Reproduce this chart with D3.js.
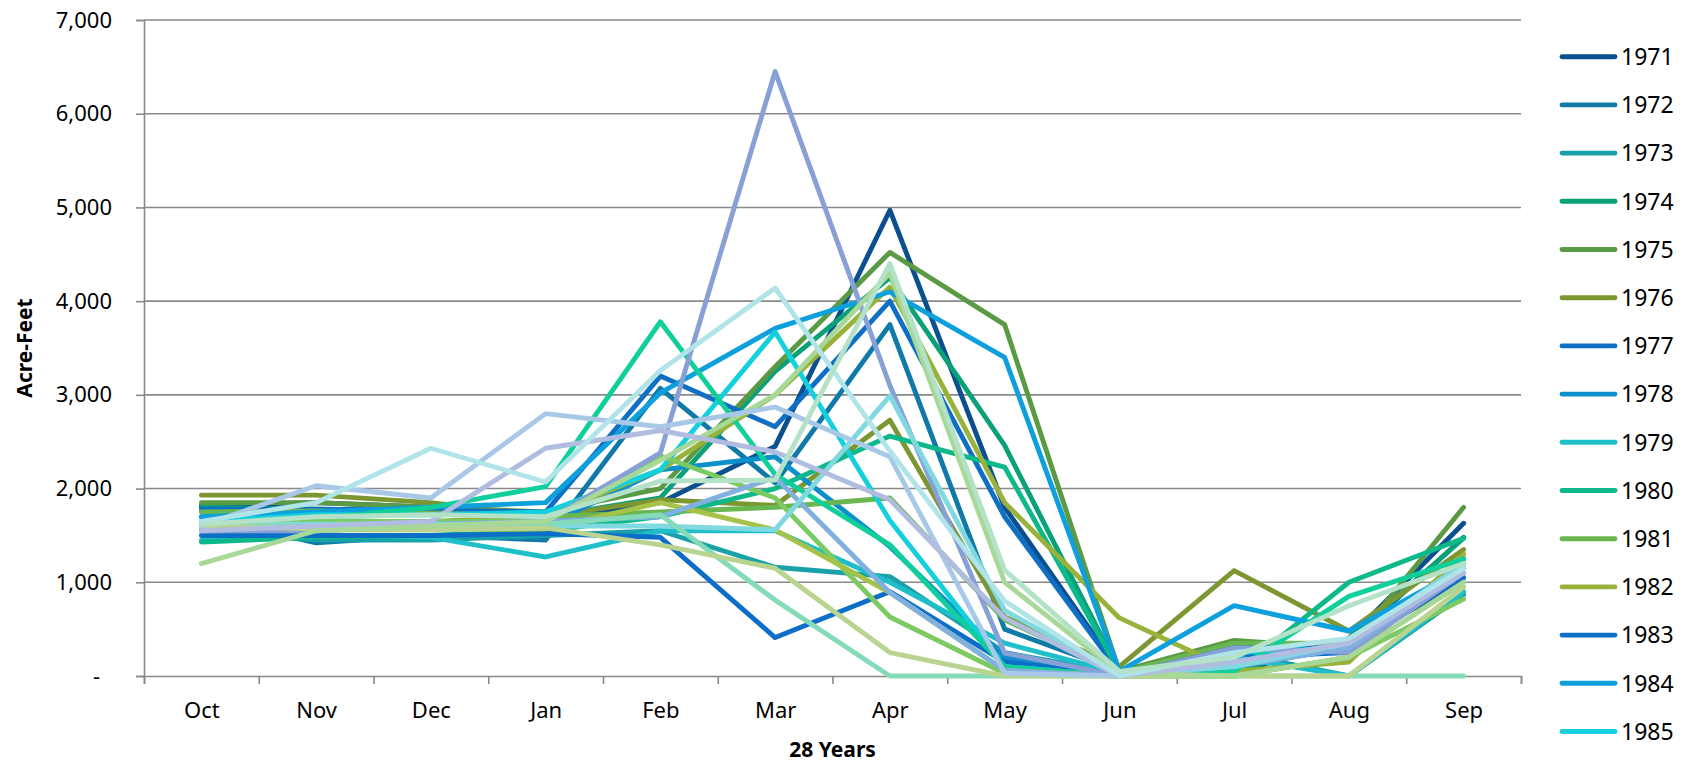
<!DOCTYPE html>
<html>
<head>
<meta charset="utf-8">
<script src="https://cdn.jsdelivr.net/npm/d3@7"></script>
<style>
    html, body { margin: 0; padding: 0; background: #fff; overflow: hidden; }
    svg { display: block; font-family: 'Noto Sans', 'DejaVu Sans', sans-serif; }
</style>
</head>
<body>
<svg width="1688" height="763"></svg>
<script>
// months of the water year
const months = ['Oct', 'Nov', 'Dec', 'Jan', 'Feb', 'Mar', 'Apr', 'May', 'Jun', 'Jul', 'Aug', 'Sep'];
const yTicks = [0, 1000, 2000, 3000, 4000, 5000, 6000, 7000];
const years = d3.range(1971, 1999);
const colors = [
    '#0b4f8e', '#0f7aa8', '#1aa0a8', '#0aa078', '#5a9a45', '#7c9632',
    '#0e6fc4', '#0d8fcc', '#1fbfca', '#0db88a', '#6ab651', '#98b23c',
    '#0d6ec8', '#0ea0dc', '#14d0dc', '#10cf9b', '#7cca62', '#a5c249',
    '#87a0d6', '#80b0e0', '#80d8e0', '#85dbb8', '#b8d490', '#a8d898',
    '#a8c8e8', '#b0bce0', '#b0e4e8', '#b4e2c8',
];
// acre-feet per month, one row per year
const flows = [
    [1820, 1850, 1800, 1650, 1850, 2450, 4970, 1800, 50, 30, 400, 1630],
    [1700, 1420, 1500, 1450, 3070, 2060, 3750, 500, 50, 200, 350, 1480],
    [1550, 1450, 1450, 1500, 1550, 1160, 1060, 250, 30, 250, 0, 870],
    [1800, 1780, 1760, 1700, 1900, 3250, 4250, 2460, 50, 50, 400, 1470],
    [1850, 1850, 1800, 1750, 2000, 3300, 4520, 3750, 50, 380, 300, 1800],
    [1930, 1930, 1850, 1700, 1880, 1820, 2730, 630, 100, 1125, 480, 1350],
    [1780, 1780, 1770, 1750, 3200, 2660, 4000, 1700, 40, 200, 250, 1250],
    [1650, 1660, 1640, 1600, 2200, 2340, 1380, 200, 20, 100, 300, 1150],
    [1450, 1500, 1480, 1270, 1550, 1550, 1000, 350, 30, 200, 0, 900],
    [1430, 1480, 1500, 1550, 1700, 2000, 2560, 2230, 50, 20, 1000, 1470],
    [1750, 1760, 1740, 1700, 1750, 1800, 1900, 600, 30, 350, 350, 1000],
    [1560, 1600, 1650, 1700, 2200, 3000, 4150, 1850, 620, 50, 150, 1300],
    [1500, 1500, 1500, 1520, 1480, 410, 900, 150, 0, 300, 300, 1050],
    [1700, 1750, 1800, 1850, 3020, 3710, 4100, 3400, 50, 750, 480, 1150],
    [1650, 1720, 1720, 1750, 2200, 3670, 1660, 100, 0, 250, 300, 1200],
    [1620, 1680, 1800, 2020, 3780, 2150, 1400, 100, 0, 50, 850, 1250],
    [1600, 1650, 1650, 1650, 2350, 1900, 630, 30, 0, 0, 200, 820],
    [1550, 1560, 1560, 1570, 1850, 1560, 890, 60, 0, 0, 200, 1000],
    [1550, 1550, 1600, 1650, 2380, 6450, 3100, 245, 0, 300, 250, 1100],
    [1600, 1600, 1620, 1650, 1700, 2120, 890, 60, 0, 100, 300, 1150],
    [1620, 1620, 1620, 1600, 1600, 1560, 2990, 700, 20, 100, 350, 1200],
    [1620, 1600, 1600, 1620, 1720, 810, 0, 0, 0, 0, 0, 0],
    [1600, 1570, 1560, 1580, 1400, 1150, 250, 0, 0, 0, 0, 950],
    [1200, 1550, 1600, 1650, 2300, 3000, 4300, 1000, 30, 0, 200, 1000],
    [1600, 2030, 1900, 2800, 2660, 2870, 2340, 30, 0, 150, 350, 1150],
    [1550, 1600, 1650, 2430, 2620, 2390, 1880, 620, 0, 150, 350, 1100],
    [1650, 1850, 2430, 2070, 3260, 4140, 2400, 800, 0, 250, 400, 1150],
    [1620, 1700, 1720, 1700, 2080, 2090, 4400, 1130, 50, 200, 750, 1200],
];

const svg = d3.select('svg');
const width = +svg.attr('width');
const height = +svg.attr('height');
const plot = { left: 144, right: 1521, top: 20, bottom: 676 };
const gridColor = '#898989';

const x = d3.scalePoint()
    .domain(months)
    .range([plot.left, plot.right])
    .padding(0.5);
// boundaries between the month slots, for the tick marks
const xEdge = d3.scaleLinear()
    .domain([0, months.length])
    .range([plot.left, plot.right]);
const y = d3.scaleLinear()
    .domain([0, 7000])
    .range([plot.bottom, plot.top]);

// *** grid ***
svg.append('g')
    .attr('class', 'grid')
    .selectAll('line')
    .data(yTicks.slice(1))
    .enter()
    .append('line')
    .attr('x1', plot.left)
    .attr('x2', plot.right)
    .attr('y1', d => y(d))
    .attr('y2', d => y(d))
    .attr('stroke', gridColor)
    .attr('stroke-width', 1.6);

// *** y axis ***
const yAxis = svg.append('g')
    .attr('transform', `translate(${plot.left},0)`)
    .call(d3.axisLeft(y)
        .tickValues(yTicks)
        .tickSize(8)
        .tickPadding(24)
        .tickFormat(d => d === 0 ? '-' : d3.format(',')(d)));
yAxis.selectAll('text')
    .attr('font-size', 22)
    .attr('font-family', "'Noto Sans', sans-serif")
    .attr('fill', '#000')
    .attr('dx', d => d === 0 ? -12 : 0);

// *** x axis ***
svg.append('g')
    .attr('transform', `translate(0,${plot.bottom})`)
    .call(d3.axisBottom(xEdge)
        .tickValues(d3.range(months.length + 1))
        .tickSize(8)
        .tickFormat(''));
const xAxis = svg.append('g')
    .attr('transform', `translate(0,${plot.bottom})`)
    .call(d3.axisBottom(x).tickSize(0).tickPadding(26));
xAxis.select('.domain').remove();
xAxis.selectAll('text')
    .attr('font-size', 22)
    .attr('font-family', "'Noto Sans', sans-serif")
    .attr('fill', '#000');

svg.selectAll('.domain, .tick line')
    .attr('stroke', gridColor)
    .attr('stroke-width', 1.6);

// *** lines ***
const line = d3.line()
    .x((d, i) => x(months[i]))
    .y(d => y(d));
svg.append('g')
    .attr('class', 'lines')
    .selectAll('path')
    .data(flows)
    .enter()
    .append('path')
    .attr('d', line)
    .attr('fill', 'none')
    .attr('stroke', (d, i) => colors[i])
    .attr('stroke-width', 4.9)
    .attr('stroke-linejoin', 'round')
    .attr('stroke-linecap', 'round');

// *** axis titles ***
svg.append('text')
    .attr('x', (plot.left + plot.right) / 2)
    .attr('y', 757)
    .attr('text-anchor', 'middle')
    .attr('font-size', 21)
    .attr('font-weight', 'bold')
    .text('28 Years');
svg.append('text')
    .attr('transform', `translate(32,${(plot.top + plot.bottom) / 2}) rotate(-90)`)
    .attr('text-anchor', 'middle')
    .attr('font-size', 21)
    .attr('font-weight', 'bold')
    .text('Acre-Feet');

// *** legend (only the rows that fit on the page) ***
const rowY = i => 56.7 + i * 48.2;
const legendRows = years.map((year, i) => ({ year, color: colors[i], i }))
    .filter(d => rowY(d.i) < height - 10);
const legend = svg.append('g')
    .attr('class', 'legend')
    .selectAll('g')
    .data(legendRows)
    .enter()
    .append('g')
    .attr('transform', d => `translate(0,${rowY(d.i)})`);
legend.append('line')
    .attr('x1', 1562)
    .attr('x2', 1615)
    .attr('stroke', d => d.color)
    .attr('stroke-width', 4.9)
    .attr('stroke-linecap', 'round');
legend.append('text')
    .attr('x', 1621)
    .attr('dy', '0.36em')
    .attr('font-size', 23)
    .text(d => d.year);
</script>
</body>
</html>
